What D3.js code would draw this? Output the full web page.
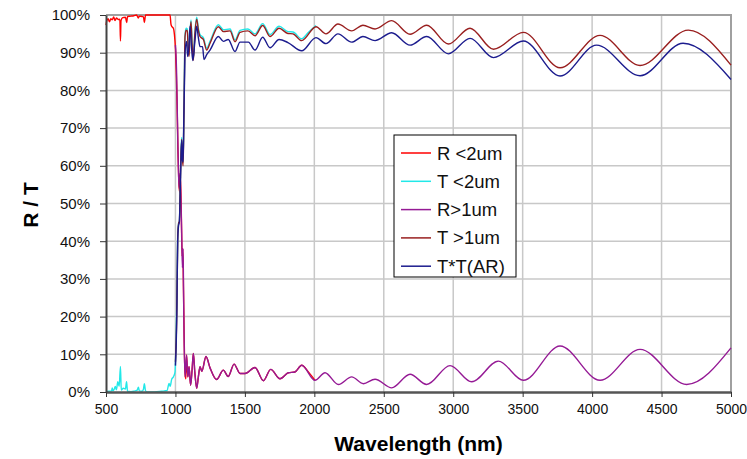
<!DOCTYPE html>
<html>
<head>
<meta charset="utf-8">
<script src="https://cdn.jsdelivr.net/npm/d3@7"></script>
<style>
  body { margin: 0; background: #fff; }
  svg { font-family: "Liberation Sans", Arial, sans-serif; }
</style>
</head>
<body>
<div id="chart"></div>
<script>
/* global d3 */

// wavelength (nm) / percent pairs
var rLt2 = [
  [500, 97.3], [505, 98.4], [515, 99], [525, 98.2], [535, 99], [545, 98.7], [555, 99.5],
  [565, 98.5], [575, 99.2], [590, 98.8], [600, 98.9], [604, 93.1], [608, 98.5], [620, 99.3],
  [640, 99.4], [649, 98], [655, 99.6], [680, 99.7], [700, 99.8], [720, 100], [733, 99.2],
  [740, 99.7], [760, 99.6], [770, 99.5], [776, 98], [785, 100], [830, 100], [900, 100],
  [961, 100], [968, 97.5], [975, 96.9], [985, 96.5], [993, 94.7], [1000, 91], [1006, 85],
  [1012, 76], [1018, 64], [1024, 56], [1030, 53], [1036, 57], [1042, 48], [1048, 36],
  [1053, 38], [1058, 27], [1063, 14], [1069, 5], [1075, 3.5], [1080, 9.8], [1089, 4],
  [1098, 6.7], [1109, 1.8], [1120, 6], [1129, 10.2], [1140, 5], [1153, 1], [1165, 4],
  [1177, 6.7], [1190, 5.5], [1220, 9.4], [1249, 6.4], [1296, 3.3], [1345, 5.8], [1380, 4.1],
  [1422, 7.4], [1465, 4.9], [1501, 4.9], [1573, 6.5], [1633, 3.0], [1686, 6.0], [1753, 3.5],
  [1813, 5.1], [1860, 5.3], [1909, 7.1], [1960, 5.2], [2005, 3.1]
];

var tLt2 = [
  [500, 0], [520, 0.2], [540, 0.3], [545, 1.1], [550, 0.3], [560, 0.8], [567, 1.5],
  [575, 0.6], [585, 2.7], [595, 1.5], [604, 6.8], [610, 0.5], [625, 1.0], [640, 0.8],
  [648, 2.7], [655, 0.2], [680, 0.1], [700, 0.2], [725, 0.5], [733, 1.3], [740, 0.3],
  [760, 0.2], [770, 0.8], [776, 2.2], [785, 0.3], [800, 0], [850, 0], [900, 0.2],
  [940, 0.4], [954, 2.3], [962, 1.5], [973, 3.4], [985, 4.0], [997, 5.3], [1003, 12],
  [1010, 24], [1016, 41], [1022, 45], [1028, 45], [1035, 56], [1040, 64], [1045, 67.5],
  [1050, 62], [1055, 61], [1060, 71], [1065, 86], [1069, 94.8], [1077, 96.5], [1085, 96.3],
  [1092, 91.5], [1098, 89.5], [1105, 95.5], [1112, 98.7], [1120, 92.5], [1129, 88.5],
  [1140, 95.5], [1153, 99.4], [1165, 96.5], [1177, 94.8], [1201, 94], [1225, 91.2],
  [1249, 93], [1309, 97.4], [1345, 96.1], [1393, 96.3], [1429, 93.4], [1465, 95.9],
  [1522, 96.3], [1573, 95], [1628, 97.7], [1681, 94.8], [1746, 97], [1810, 95.6],
  [1846, 95.5], [1909, 93.7], [1960, 95.5], [2012, 97.2]
];

var rGt1 = [
  [1000, 92], [1008, 85], [1013, 75], [1018, 65], [1024, 56], [1028, 54], [1033, 58],
  [1040, 50], [1045, 42], [1050, 33], [1055, 38], [1058, 28], [1062, 15], [1069, 4],
  [1080, 9.8], [1089, 4], [1098, 6.7], [1109, 1.8], [1120, 6], [1129, 10.2], [1140, 5],
  [1153, 1], [1165, 4], [1177, 6.7], [1190, 5.5], [1220, 9.4], [1249, 6.4], [1296, 3.3],
  [1345, 5.8], [1380, 4.1], [1422, 7.4], [1465, 4.9], [1501, 4.9], [1573, 6.5], [1633, 3.0],
  [1686, 6.0], [1753, 3.5], [1813, 5.1], [1860, 5.3], [1909, 7.1], [2005, 3.1], [2077, 5.1],
  [2173, 2.0], [2269, 4.0], [2353, 2.2], [2437, 3.4], [2557, 1.1], [2689, 4.7], [2809, 2.0],
  [2977, 7.0], [3133, 2.7], [3325, 8.2], [3505, 3.1], [3769, 12.2], [4057, 3.1],
  [4345, 11.3], [4681, 2.0], [5000, 11.7]
];

var tGt1 = [
  [1000, 8], [1010, 22], [1016, 40], [1022, 45], [1028, 45], [1035, 55], [1040, 63],
  [1045, 67], [1050, 62], [1055, 60], [1060, 70], [1065, 85], [1069, 94.3], [1077, 96],
  [1085, 95.8], [1092, 91], [1098, 89], [1105, 95], [1112, 98.2], [1120, 92], [1129, 88],
  [1140, 95], [1153, 98.9], [1165, 96], [1177, 94.3], [1201, 93.5], [1225, 90.7],
  [1249, 92.5], [1309, 96.9], [1345, 95.6], [1393, 95.8], [1429, 92.9], [1465, 95.4],
  [1522, 95.8], [1573, 94.5], [1628, 97.2], [1681, 94.3], [1746, 96.5], [1810, 95.1],
  [1846, 95], [1909, 93.2], [2012, 96.9], [2084, 95], [2170, 97.6], [2269, 95.8],
  [2350, 97.3], [2437, 96.3], [2557, 98.5], [2689, 94.9], [2809, 97.3], [2965, 92.3],
  [3121, 96.5], [3290, 90.9], [3505, 95.4], [3769, 86.0], [4057, 94.6], [4345, 86.6],
  [4693, 96.0], [5000, 86.7]
];

var ttAR = [
  [1000, 7], [1010, 21], [1016, 40], [1022, 44], [1028, 45], [1035, 54], [1040, 62],
  [1045, 66.8], [1050, 61.5], [1055, 61], [1060, 72], [1065, 82], [1069, 90], [1080, 93],
  [1088, 89], [1098, 92], [1105, 97], [1115, 92], [1125, 87.9], [1140, 93], [1153, 97],
  [1165, 94], [1177, 91.6], [1195, 91.6], [1206, 88.2], [1225, 89.5], [1249, 90.7],
  [1309, 94.3], [1345, 93], [1380, 93.5], [1429, 90.3], [1465, 92.8], [1525, 92.8],
  [1573, 90.7], [1628, 94.1], [1681, 91.3], [1746, 93.5], [1810, 92.7], [1909, 90.5],
  [2012, 94.0], [2084, 92.4], [2170, 95], [2269, 92.8], [2350, 94.3], [2437, 93.2],
  [2557, 95.3], [2689, 92], [2809, 94.3], [2965, 89.7], [3121, 93.8], [3290, 88.7],
  [3505, 93.1], [3769, 83.8], [4032, 92.0], [4345, 83.9], [4655, 92.5], [5000, 82.9]
];

var seriesNames = ['R <2um', 'T <2um', 'R>1um', 'T >1um', 'T*T(AR)'];
var seriesData = [rLt2, tLt2, rGt1, tGt1, ttAR];
var seriesColors = ['#ff0000', '#22e8e8', '#951a95', '#991f1f', '#1c1c8e'];

var xTicks = [500, 1000, 1500, 2000, 2500, 3000, 3500, 4000, 4500, 5000];
var yTicks = [0, 10, 20, 30, 40, 50, 60, 70, 80, 90, 100];

var width = 747, height = 459;
var margin = {top: 15, right: 16, bottom: 67, left: 106};

var svg = d3.select('#chart').append('svg')
  .attr('width', width)
  .attr('height', height);

var x = d3.scaleLinear().domain([500, 5000]).range([margin.left, width - margin.right]);
var y = d3.scaleLinear().domain([0, 100]).range([height - margin.bottom, margin.top]);

// grid
svg.append('g').selectAll('line').data(yTicks.slice(1)).enter().append('line')
  .attr('x1', x(500)).attr('x2', x(5000))
  .attr('y1', function(d) { return y(d); }).attr('y2', function(d) { return y(d); })
  .style('stroke', d3.rgb(200, 200, 200)).style('stroke-width', 1.5);

svg.append('g').selectAll('line').data(xTicks.slice(1)).enter().append('line')
  .attr('x1', function(d) { return x(d); }).attr('x2', function(d) { return x(d); })
  .attr('y1', y(0)).attr('y2', y(100))
  .style('stroke', d3.rgb(200, 200, 200)).style('stroke-width', 1.5);

// frame top / right
svg.append('path')
  .attr('d', 'M' + x(500) + ',' + y(100) + 'H' + x(5000) + 'V' + y(0))
  .style('fill', 'none').style('stroke', '#a0a0a0').style('stroke-width', 2);

// lines
var line = d3.line()
  .x(function(d) { return x(d[0]); })
  .y(function(d) { return y(d[1]); })
  .curve(d3.curveMonotoneX);

svg.append('g').selectAll('path').data(seriesData).enter().append('path')
  .attr('d', line)
  .style('fill', 'none')
  .style('stroke', function(d, i) { return seriesColors[i]; })
  .style('stroke-width', 1.4);

// axes
var xAxis = svg.append('g')
  .attr('transform', 'translate(0,' + y(0) + ')')
  .call(d3.axisBottom(x).tickValues(xTicks).tickSize(5).tickSizeOuter(0).tickPadding(7)
    .tickFormat(d3.format('d')));
xAxis.select('.domain').style('stroke', '#555').style('stroke-width', 2.5);
xAxis.selectAll('.tick line').style('stroke', '#333');
xAxis.selectAll('text').style('font-size', '14px').style('fill', '#111')
  .style('font-family', '"Liberation Sans", Arial, sans-serif');

var yAxis = svg.append('g')
  .attr('transform', 'translate(' + x(500) + ',0)')
  .call(d3.axisLeft(y).tickValues(yTicks).tickSize(6).tickSizeOuter(0).tickPadding(10)
    .tickFormat(function(d) { return d + '%'; }));
yAxis.select('.domain').style('stroke', '#444').style('stroke-width', 2);
yAxis.selectAll('.tick line').style('stroke', '#333');
yAxis.selectAll('text').style('font-size', '15px').style('fill', '#111')
  .style('font-family', '"Liberation Sans", Arial, sans-serif');

// axis titles
svg.append('text')
  .attr('x', (x(500) + x(5000)) / 2).attr('y', 451)
  .style('text-anchor', 'middle').style('font-weight', 'bold').style('font-size', '21px')
  .text('Wavelength (nm)');

svg.append('text')
  .attr('transform', 'translate(38,205) rotate(-90)')
  .style('text-anchor', 'middle').style('font-weight', 'bold').style('font-size', '21px')
  .text('R / T');

// legend
var legend = svg.append('g').attr('transform', 'translate(394,135)');
legend.append('rect')
  .attr('x', 0).attr('y', 0).attr('width', 122).attr('height', 142)
  .style('fill', '#fff').style('stroke', '#000').style('stroke-width', 1);

var item = legend.selectAll('g.item').data(seriesNames).enter().append('g')
  .attr('class', 'item')
  .attr('transform', function(d, i) { return 'translate(0,' + (18 + i * 28.3) + ')'; });

item.append('line')
  .attr('x1', 7).attr('x2', 37).attr('y1', 0).attr('y2', 0)
  .style('stroke', function(d, i) { return seriesColors[i]; })
  .style('stroke-width', 1.5);

item.append('text')
  .attr('x', 43).attr('y', 6.5)
  .style('font-size', '18.5px').style('fill', '#111')
  .text(function(d) { return d; });
</script>
</body>
</html>
